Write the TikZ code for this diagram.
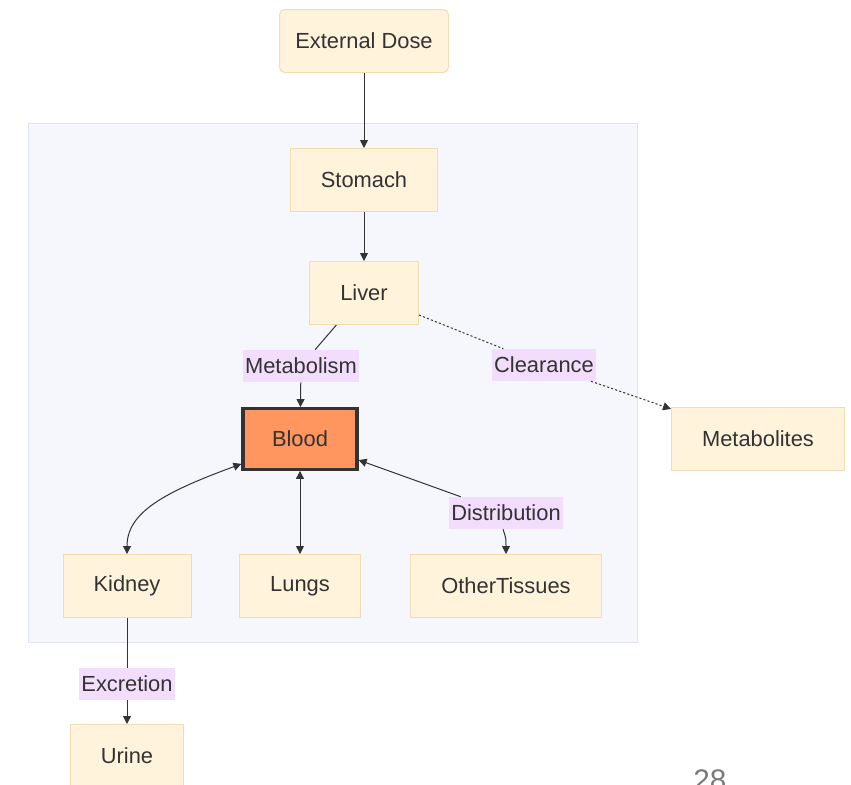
\documentclass[tikz,border=0pt]{standalone}
\usepackage{fontspec}
\setmainfont{Liberation Sans}
\usetikzlibrary{arrows.meta,calc}

\definecolor{boxfill}{HTML}{FFF3DC}
\definecolor{boxline}{HTML}{F0DDB2}
\definecolor{groupfill}{HTML}{F6F7FD}
\definecolor{groupline}{HTML}{DCE4F6}
\definecolor{tagfill}{HTML}{F3DDFD}
\definecolor{bloodfill}{HTML}{FF955F}
\definecolor{ink}{HTML}{333333}
\definecolor{pagenum}{HTML}{7A7A7A}

\tikzset{
  organ/.style={draw=boxline, fill=boxfill, line width=0.75pt, inner sep=0pt,
    text=ink, font=\fontsize{16.4pt}{19pt}\selectfont, minimum height=47.25pt},
  tag/.style={fill=tagfill, inner xsep=1.5pt, inner ysep=0pt, minimum height=24pt,
    text=ink, font=\fontsize{16.4pt}{19pt}\selectfont},
  flow/.style={draw=ink, line width=0.75pt, -{Triangle[length=6pt,width=6pt]}},
  plain/.style={draw=ink, line width=0.75pt},
  both/.style={draw=ink, line width=0.75pt,
    {Triangle[length=6pt,width=6pt]}-{Triangle[length=6pt,width=6pt]}},
  dots/.style={dash pattern=on 1.6pt off 1.6pt}
}

\begin{document}
\begin{tikzpicture}[x=0.75pt,y=-0.75pt]
  \useasboundingbox (0,0) rectangle (851,785);

  % body compartment
  \draw[groupline, fill=groupfill, line width=0.75pt] (28,123) rectangle (637,642);

  % compartments
  \node[organ, rounded corners=4pt, minimum width=126.75pt] (dose) at (364,41) {External Dose};
  \node[organ, minimum width=110.25pt] (stomach) at (364,180) {Stomach};
  \node[organ, minimum width=81.75pt] (liver) at (364,293) {Liver};
  \node[organ, draw=ink, fill=bloodfill, line width=2.4pt, minimum width=85.5pt,
        minimum height=45.5pt] (blood) at (300,439) {Blood};
  \node[organ, minimum width=129.75pt] (metab) at (758,439) {Metabolites};
  \node[organ, minimum width=96pt] (kidney) at (127,586) {Kidney};
  \node[organ, minimum width=90.75pt] (lungs) at (300,586) {Lungs};
  \node[organ, minimum width=143.25pt] (tissues) at (506,586) {OtherTissues};
  \node[organ, minimum width=84.75pt] (urine) at (127,756) {Urine};

  % edge labels
  \node[tag] (lmetab) at (301,366) {Metabolism};
  \node[tag] (lclear) at (544,365) {Clearance};
  \node[tag] (ldist) at (506,513) {Distribution};
  \node[tag] (lexcr) at (127,684) {Excretion};

  % connectors
  \draw[flow] (dose) -- (stomach);
  \draw[flow] (stomach) -- (liver);
  \draw[plain] (liver) -- (lmetab);
  \draw[flow] (lmetab) -- (blood);
  \draw[plain, dots] (liver) -- (lclear);
  \draw[flow, dots] (lclear) -- (metab);
  \draw[both] (blood.203) .. controls (165,492) and (127,512) .. (kidney.north);
  \draw[both] (blood) -- (lungs);
  \draw[draw=ink, line width=0.75pt, {Triangle[length=6pt,width=6pt]}-] (blood) -- (ldist);
  \draw[flow] (ldist.south) ++(-3,0) .. controls (506,538) .. (tissues.north);
  \draw[plain] (kidney) -- (lexcr);
  \draw[flow] (lexcr) -- (urine);

  % page number
  \node[anchor=base, text=pagenum, inner sep=0pt,
        font=\fontsize{22.3pt}{26pt}\selectfont] (page) at (710,790) {28};
\end{tikzpicture}
\end{document}
